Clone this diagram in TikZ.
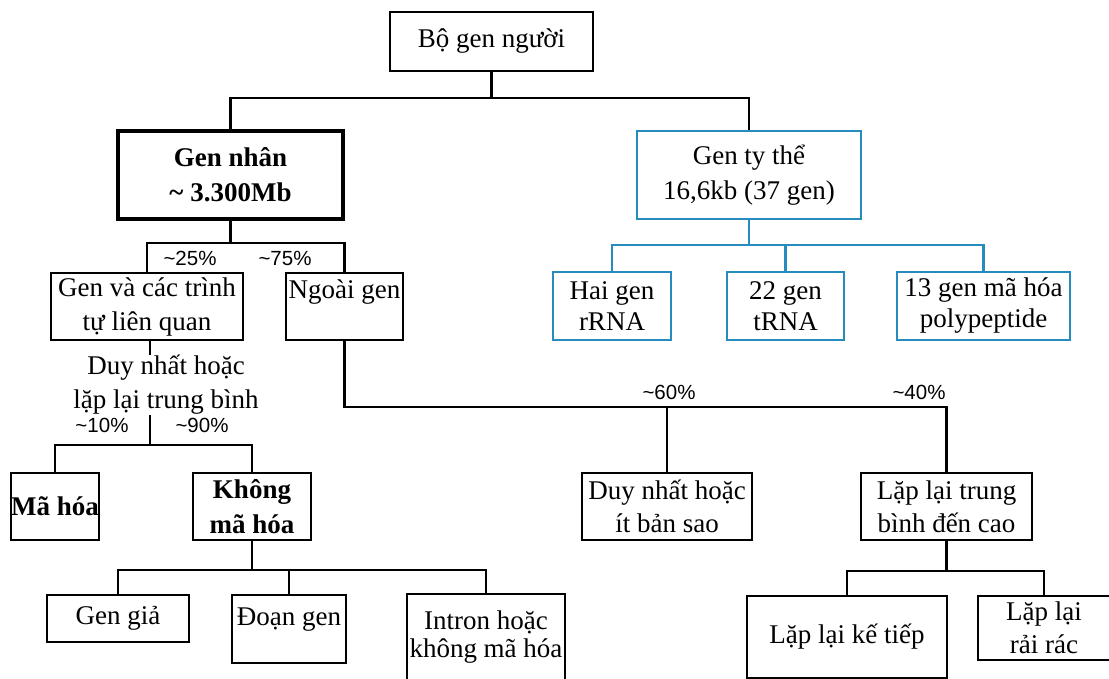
\documentclass[tikz,border=0pt]{standalone}
\usepackage{fontspec}
\setmainfont{Liberation Serif}
\newfontfamily\pctfont{Liberation Sans}
\definecolor{tblue}{RGB}{38,140,190}
\begin{document}
\begin{tikzpicture}[x=1pt,y=-1pt,
  box/.style={draw=black, line width=2.2pt, inner sep=0pt, align=center,
    font=\fontsize{27}{34}\selectfont},
  bbox/.style={box, draw=tblue, line width=2pt},
  conn/.style={line width=2.8pt},
  bconn/.style={line width=2.4pt, draw=tblue},
  pct/.style={inner sep=0pt, font=\pctfont\fontsize{20.5}{24}\selectfont},
  lbl/.style={inner sep=0pt, align=center, font=\fontsize{27}{34}\selectfont}]
\useasboundingbox (0,0) rectangle (1109,678);
\clip (0,0) rectangle (1109,678);
\fill[white] (0,0) rectangle (1109,678);

% nodes
\node[box, minimum width=203pt, minimum height=59pt] (top) at (491.5,41.5) {Bộ gen người};
\node[box, line width=3.5pt, minimum width=225pt, minimum height=88pt, font=\bfseries\fontsize{27}{35}\selectfont] (gennhan) at (230.5,175) {Gen nhân\\\textasciitilde{} 3.300Mb};
\node[bbox, minimum width=224pt, minimum height=88pt, font=\fontsize{27}{35}\selectfont] (gentythe) at (749,175) {Gen ty thể\\16,6kb (37 gen)};
\node[bbox, minimum width=118pt, minimum height=68pt, font=\fontsize{27}{31}\selectfont] (hai) at (612,306) {Hai gen\\rRNA};
\node[bbox, minimum width=117pt, minimum height=68pt, font=\fontsize{27}{31}\selectfont] (t22) at (785.5,306) {22 gen\\tRNA};
\node[bbox, minimum width=173pt, minimum height=68pt, font=\fontsize{27}{31}\selectfont] (t13) at (983.5,306) {13 gen mã hóa\\polypeptide};
\node[box, minimum width=192pt, minimum height=67pt] (genva) at (147,306.5) {Gen và các trình\\tự liên quan};
\node[box, minimum width=117pt, minimum height=67pt] (ngoai) at (344.5,306.5) {Ngoài gen\\[-10pt]\strut};
\node[lbl] (dn) at (166,385) {Duy nhất hoặc\\lặp lại trung bình};
\node[box, minimum width=88pt, minimum height=67pt, font=\bfseries\fontsize{27}{34}\selectfont] (maho) at (55,506.5) {Mã hóa};
\node[box, minimum width=118pt, minimum height=67pt, font=\bfseries\fontsize{27}{35}\selectfont] (khong) at (252,506.5) {Không\\mã hóa};
\node[box, minimum width=142pt, minimum height=47pt] (gengia) at (118,618.5) {Gen giả};
\node[box, minimum width=114pt, minimum height=68pt] (doan) at (289,629) {Đoạn gen\\[-20pt]\strut};
\node[box, minimum width=158pt, minimum height=86pt, font=\fontsize{27}{28}\selectfont] (intron) at (486,637) {Intron hoặc\\không mã hóa};
\node[box, minimum width=170pt, minimum height=67pt, font=\fontsize{27}{33}\selectfont] (duy2) at (667,506.5) {Duy nhất hoặc\\ít bản sao};
\node[box, minimum width=171pt, minimum height=67pt, font=\fontsize{27}{33}\selectfont] (lap) at (946.5,506.5) {Lặp lại trung\\bình đến cao};
\node[box, minimum width=200pt, minimum height=82pt] (lapket) at (847,637) {Lặp lại kế tiếp};
\node[box, minimum width=132pt, minimum height=64pt, font=\fontsize{27}{33}\selectfont] (rairac) at (1044,628) {Lặp lại\\rải rác};

% percent labels
\node[pct] (p25) at (190,258) {\textasciitilde25\%};
\node[pct] (p75) at (285,258) {\textasciitilde75\%};
\node[pct] (p10) at (102,425) {\textasciitilde10\%};
\node[pct] (p90) at (202,425) {\textasciitilde90\%};
\node[pct] (p60) at (669,392) {\textasciitilde60\%};
\node[pct] (p40) at (919,392) {\textasciitilde40\%};

% junction levels
\coordinate (j1) at (491,98);
\coordinate (j2) at (232,243);
\coordinate (j3) at (345,407);
\coordinate (j4) at (150,445);
\coordinate (j5) at (747,245);
\coordinate (j6) at (253,570);
\coordinate (j7) at (948,571);

% connectors
\draw[conn] (top.south) -- (top.south |- j1);
\draw[conn] (gennhan.north) -- (gennhan.north |- j1) -- (gentythe.north |- j1) -- (gentythe.north);

\draw[conn] (gennhan.south) -- (gennhan.south |- j2);
\draw[conn] (genva.north) -- (genva.north |- j2) -- (ngoai.north |- j2) -- (ngoai.north);

\draw[bconn] (gentythe.south) -- (gentythe.south |- j5);
\draw[bconn] (hai.north) -- (hai.north |- j5) -- (t13.north |- j5) -- (t13.north);
\draw[bconn] (t22.north) -- (t22.north |- j5);

\draw[conn] (ngoai.south) -- (ngoai.south |- j3) -- (lap.north |- j3) -- (lap.north);
\draw[conn] (duy2.north) -- (duy2.north |- j3);

\draw[conn] (genva.south -| j4) -- (dn.north -| j4);
\draw[conn] (dn.south -| j4) -- (j4);
\draw[conn] (maho.north) -- (maho.north |- j4) -- (khong.north |- j4) -- (khong.north);

\draw[conn] (khong.south) -- (khong.south |- j6);
\draw[conn] (gengia.north) -- (gengia.north |- j6) -- (intron.north |- j6) -- (intron.north);
\draw[conn] (doan.north) -- (doan.north |- j6);

\draw[conn] (lap.south) -- (lap.south |- j7);
\draw[conn] (lapket.north) -- (lapket.north |- j7) -- (rairac.north |- j7) -- (rairac.north);
\end{tikzpicture}
\end{document}
